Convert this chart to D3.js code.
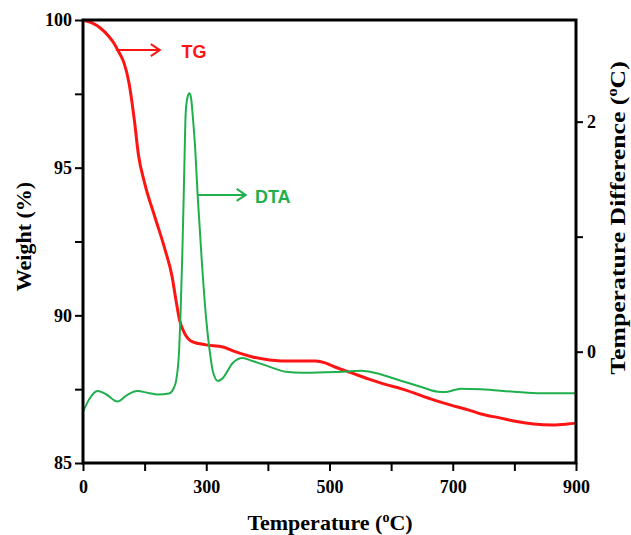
<!DOCTYPE html>
<meta charset="utf-8">
<script src="https://d3js.org/d3.v7.min.js"></script>
<style>
  body { margin: 0; background: #fff; }
</style>
<div id="chart"></div>
<script>
// TG curve: temperature (oC) and weight (%)
const tgTemp = [0, 22, 42, 62, 75, 87, 100, 112, 125, 135, 150, 175, 200, 217, 225, 235, 247, 267, 299, 327,
  348, 375, 403, 440, 477, 493, 509, 536, 564, 589, 617, 670, 697, 725, 746, 778, 799, 831, 863, 886, 900];
const tgWeight = [100, 99.90, 99.73, 99.46, 99.22, 98.92, 98.54, 97.87, 96.61, 95.43, 94.48, 93.33, 92.21, 91.30,
  90.62, 89.84, 89.40, 89.10, 89.00, 88.93, 88.76, 88.59, 88.49, 88.45, 88.45, 88.39, 88.25, 88.05, 87.84, 87.67,
  87.51, 87.13, 86.96, 86.80, 86.66, 86.52, 86.42, 86.32, 86.29, 86.32, 86.35];

// DTA curve: temperature (oC) and temperature difference (oC)
const dtaTemp = [0, 17, 35, 55, 84, 107, 132, 159, 182, 209, 221, 227, 234, 237, 242, 246, 250, 254, 259, 263,
  267, 273, 279, 289, 300, 306, 311, 319, 327, 343, 359, 375, 402, 429, 456, 509, 552, 573, 617, 649, 676, 689,
  713, 746, 799, 842, 900];
const dtaDiff = [-0.524, -0.403, -0.342, -0.368, -0.433, -0.377, -0.342, -0.359, -0.372, -0.363, -0.316, -0.246,
  0.015, 0.276, 0.884, 1.493, 2.076, 2.206, 2.247, 2.206, 2.058, 1.771, 1.363, 0.797, 0.276, -0.011, -0.177,
  -0.255, -0.229, -0.098, -0.055, -0.081, -0.130, -0.174, -0.183, -0.177, -0.165, -0.183, -0.255, -0.307,
  -0.348, -0.350, -0.322, -0.327, -0.348, -0.362, -0.362];

// ticks
const xTicks = [0, 150, 300, 400, 500, 600, 700, 800, 900];
const xTickLabels = ["0", "", "300", "", "500", "", "700", "", "900"];
const weightTicks = [85, 87.5, 90, 92.5, 95, 97.5, 100];
const weightTickLabels = ["85", "", "90", "", "95", "", "100"];
const diffTicks = [0, 1, 2];
const diffTickLabels = ["0", "", "2"];

var margin = {top: 20, right: 55, bottom: 72, left: 83},
    width = 631 - margin.left - margin.right,
    height = 535 - margin.top - margin.bottom;

var red = "#ff1414", green = "#1fb04e";
var serif = "'Liberation Serif', 'Times New Roman', serif";
var sans = "'Liberation Sans', Arial, sans-serif";

var svg = d3.select("#chart").append("svg")
    .attr("width", 631)
    .attr("height", 535)
  .append("g")
    .attr("transform", "translate(" + margin.left + "," + margin.top + ")");

// the x axis is not linear in the original: 0-300 takes two intervals, then 100 per interval
var x = d3.scaleLinear().domain([0, 300, 900]).range([0, width * 2 / 8, width]);
var yW = d3.scaleLinear().domain([85, 100]).range([height, 0]);
var yD = d3.scaleLinear().domain([-0.968, 2.884]).range([height, 0]);

var tg = tgTemp.map(function (t, i) { return [t, tgWeight[i]]; });
var dta = dtaTemp.map(function (t, i) { return [t, dtaDiff[i]]; });

var tgLine = d3.line()
    .curve(d3.curveMonotoneX)
    .x(function (d) { return x(d[0]); })
    .y(function (d) { return yW(d[1]); });

var dtaLine = d3.line()
    .curve(d3.curveMonotoneX)
    .x(function (d) { return x(d[0]); })
    .y(function (d) { return yD(d[1]); });

svg.append("path").datum(tg)
    .attr("d", tgLine)
    .attr("fill", "none")
    .attr("stroke", red)
    .attr("stroke-width", 3);

svg.append("path").datum(dta)
    .attr("d", dtaLine)
    .attr("fill", "none")
    .attr("stroke", green)
    .attr("stroke-width", 2);

// axes
function styleAxis(g) {
  g.select(".domain").remove();
  g.selectAll(".tick line").attr("stroke", "#000").attr("stroke-width", 2);
  g.selectAll(".tick text")
    .attr("fill", "#000")
    .style("font-family", serif)
    .style("font-weight", "bold")
    .style("font-size", "18px");
}

svg.append("g")
    .attr("transform", "translate(0," + height + ")")
    .call(d3.axisBottom(x).tickValues(xTicks).tickSize(8).tickPadding(9)
      .tickFormat(function (d, i) { return xTickLabels[i]; }))
    .call(styleAxis);

svg.append("g")
    .call(d3.axisLeft(yW).tickValues(weightTicks).tickSize(8).tickPadding(3)
      .tickFormat(function (d, i) { return weightTickLabels[i]; }))
    .call(styleAxis);

svg.append("g")
    .attr("transform", "translate(" + width + ",0)")
    .call(d3.axisRight(yD).tickValues(diffTicks).tickSize(7).tickPadding(4)
      .tickFormat(function (d, i) { return diffTickLabels[i]; }))
    .call(styleAxis);

// frame
svg.append("rect")
    .attr("width", width)
    .attr("height", height)
    .attr("fill", "none")
    .attr("stroke", "#000")
    .attr("stroke-width", 3);

// axis titles, with a raised small "o" for the degree sign
function degreeTitle(sel, before) {
  sel.append("tspan").text(before);
  sel.append("tspan").attr("dy", -8).style("font-size", "14px").text("o");
  sel.append("tspan").attr("dy", 8).text("C)");
}

svg.append("text")
    .attr("x", 330 - margin.left)
    .attr("y", height + 67)
    .attr("text-anchor", "middle")
    .style("font-family", serif).style("font-weight", "bold").style("font-size", "22px")
    .call(degreeTitle, "Temperature (");

svg.append("text")
    .attr("transform", "translate(" + (-60) + "," + (height / 2 - 5) + ")rotate(-90)")
    .attr("text-anchor", "middle")
    .attr("dy", "0.35em")
    .style("font-family", serif).style("font-weight", "bold").style("font-size", "22px")
    .text("Weight (%)");

// the right title is drawn stretched along its length in the original
svg.append("text")
    .attr("transform", "translate(" + (width + 41) + "," + 198 + ")rotate(-90)scale(1.17,1)")
    .attr("text-anchor", "middle")
    .attr("dy", "0.35em")
    .style("font-family", serif).style("font-weight", "bold").style("font-size", "22px")
    .call(degreeTitle, "Temperature Difference (");

// annotations: arrow from the curve to the label
function arrow(x1, x2, y, color) {
  svg.append("line")
      .attr("x1", x1).attr("x2", x2).attr("y1", y).attr("y2", y)
      .attr("stroke", color).attr("stroke-width", 2);
  svg.append("path")
      .attr("d", "M" + (x2 - 9) + "," + (y - 6) + "L" + x2 + "," + y + "L" + (x2 - 9) + "," + (y + 6))
      .attr("fill", "none").attr("stroke", color).attr("stroke-width", 2);
}

arrow(x(80), x(187), yW(98.98), red);
svg.append("text")
    .attr("x", x(240)).attr("y", yW(98.70))
    .attr("fill", red)
    .style("font-family", sans).style("font-weight", "bold").style("font-size", "18px")
    .text("TG");

arrow(x(279), x(364), yD(1.363), green);
svg.append("text")
    .attr("x", x(379)).attr("y", yD(1.29))
    .attr("fill", green)
    .style("font-family", sans).style("font-weight", "bold").style("font-size", "18px")
    .text("DTA");
</script>
